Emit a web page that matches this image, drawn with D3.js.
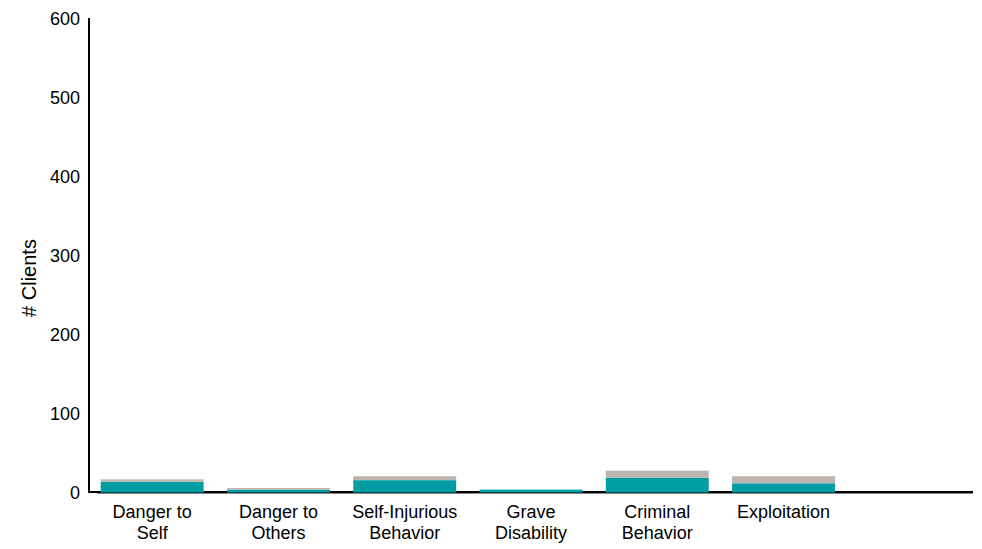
<!DOCTYPE html>
<html><head><meta charset="utf-8">
<script src="https://cdn.jsdelivr.net/npm/d3@7"></script>
<style>body{margin:0;background:#fff}svg{display:block}text{font-family:"Liberation Sans",Arial,sans-serif;fill:#000}</style>
</head><body>
<svg id="c" width="982" height="549"></svg>
<script>
const categories = [["Danger to","Self"],["Danger to","Others"],["Self-Injurious","Behavior"],["Grave","Disability"],["Criminal","Behavior"],["Exploitation"],[""]];
const tealValues = [13, 3, 15, 3, 18, 11, 0];
const grayValues = [3, 2, 5, 0, 9, 9, 0];
const yTicks = [0, 100, 200, 300, 400, 500, 600];

(function(){
const svg = d3.select("#c");
const mLeft = 89, mRight = 973, mTop = 18, mBottom = 492;
const keys = categories.map((c, i) => i);
const x = d3.scaleBand().domain(keys).range([mLeft, mRight]).paddingInner(0.185).paddingOuter(0.0925);
const y = d3.scaleLinear().domain([0, 600]).range([mBottom, mTop]);

const data = keys.map(i => ({i, teal: tealValues[i], gray: grayValues[i]}));
const stack = d3.stack().keys(["teal", "gray"])(data);
const colors = {teal: "#009ea3", gray: "#bcb4ae"};

svg.append("line").attr("x1", mLeft).attr("x2", mLeft).attr("y1", mTop).attr("y2", mBottom + 1).attr("stroke", "#000").attr("stroke-width", 2);
svg.append("line").attr("x1", mLeft).attr("x2", mRight).attr("y1", mBottom).attr("y2", mBottom).attr("stroke", "#000").attr("stroke-width", 2);
svg.append("line").attr("x1", mLeft + 8).attr("x2", mRight).attr("y1", mBottom + 1.5).attr("y2", mBottom + 1.5).attr("stroke", "#888").attr("stroke-width", 1);

stack.forEach(s => {
  svg.append("g").selectAll("rect").data(s.filter(d => d[1] > d[0])).join("rect")
    .attr("x", d => x(d.data.i)).attr("width", x.bandwidth())
    .attr("y", d => y(d[1])).attr("height", d => y(d[0]) - y(d[1]) + (d[0] === 0 ? 0.5 : 0))
    .attr("fill", colors[s.key]);
});

svg.append("g").selectAll("text").data(yTicks).join("text")
  .attr("x", 80).attr("y", d => y(d) + 1).attr("dy", "0.35em").attr("text-anchor", "end")
  .attr("font-size", 18).text(d => d);

const xl = svg.append("g").selectAll("text").data(keys).join("text")
  .attr("x", i => x(i) + x.bandwidth() / 2).attr("y", 518).attr("text-anchor", "middle").attr("font-size", 18);
xl.each(function(i) {
  categories[i].forEach((line, k) => {
    d3.select(this).append("tspan").attr("x", x(i) + x.bandwidth() / 2).attr("dy", k === 0 ? 0 : 21).text(line);
  });
});

svg.append("text").attr("transform", "translate(36,278) rotate(-90)").attr("text-anchor", "middle")
  .attr("font-size", 20).text("# Clients");
})();
</script>
</body></html>
